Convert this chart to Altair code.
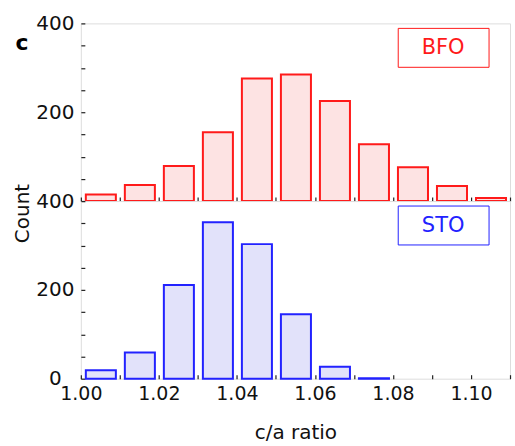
import altair as alt
import pandas as pd

bin_starts = [1.00, 1.01, 1.02, 1.03, 1.04, 1.05, 1.06, 1.07, 1.08, 1.09, 1.10]
bfo_counts = [15, 36, 79, 155, 276, 285, 225, 128, 76, 34, 7]
sto_counts = [19, 59, 211, 352, 303, 145, 27, 1, 0, 0, 0]
x_ticks = [1.00, 1.01, 1.02, 1.03, 1.04, 1.05, 1.06, 1.07, 1.08, 1.09, 1.10, 1.11]
x_labels = [1.00, 1.02, 1.04, 1.06, 1.08, 1.10]
y_ticks = [0, 50, 100, 150, 200, 250, 300, 350, 400]

W, H = 430, 178
FONT = "DejaVu Sans"
FS = 20

def make_df(counts):
    df = pd.DataFrame({"start": bin_starts, "count": counts})
    df["end"] = df["start"] + 0.01
    return df

one = pd.DataFrame({"k": [0]})

xscale = alt.Scale(domain=[1.0, 1.11], nice=False, zero=False)
yscale = alt.Scale(domain=[0, 400], nice=False)

def panel(counts, stroke, fill, name, y_labels, show_x, y_title):
    df = make_df(counts)
    xaxis = alt.Axis(values=x_labels, format=".2f", ticks=False, tickSize=0, domain=False,
                     grid=False, labels=show_x, labelFontSize=19, labelFont=FONT,
                     labelColor="#111", labelPadding=6, labelFlush=False, labelOverlap=False,
                     title="c/a ratio" if show_x else None,
                     titleFontSize=FS, titleFont=FONT, titleFontWeight="normal",
                     titleColor="#111", titlePadding=19)
    yaxis_kwargs = dict(values=y_labels, ticks=False, tickSize=0, domain=False, grid=False,
                        labelFontSize=FS, labelFont=FONT, labelColor="#111",
                        labelPadding=26, labelAlign="center", labelBaseline="middle",
                        labelFlush=False, labelOverlap=False)
    if y_title:
        yaxis_kwargs.update(title="Count", titleFontSize=FS, titleFont=FONT,
                            titleFontWeight="normal", titleColor="#111",
                            titleX=-48, titleY=12, titleAngle=-90, titleAlign="center")
    else:
        yaxis_kwargs.update(title=None)
    bars = alt.Chart(df).transform_filter("datum.count > 0").mark_bar(
        stroke=stroke, strokeWidth=2, fill=fill, xOffset=5, x2Offset=-4).encode(
        x=alt.X("start:Q", scale=xscale, axis=xaxis),
        x2="end:Q",
        y=alt.Y("count:Q", scale=yscale, axis=alt.Axis(**yaxis_kwargs)),
        y2=alt.datum(0),
    )
    ticks = alt.Chart(df).mark_point(opacity=0).encode(
        x=alt.X("start:Q", scale=xscale,
                axis=alt.Axis(orient="top", offset=-H, values=x_ticks, labels=False,
                              domain=False, grid=False, tickSize=4, tickColor="#222",
                              tickWidth=1.2, title=None)),
        y=alt.Y("count:Q", scale=yscale,
                axis=alt.Axis(orient="right", offset=-W, values=y_ticks, labels=False,
                              domain=False, grid=False, tickSize=4, tickColor="#222",
                              tickWidth=1.2, title=None)),
    )
    box = alt.Chart(one).mark_rect(fill=None, stroke=stroke, strokeWidth=1).encode(
        x=alt.value(318), x2=alt.value(409), y=alt.value(5), y2=alt.value(44))
    label = alt.Chart(one).mark_text(color=stroke, fontSize=21, font=FONT,
                                     align="center", baseline="middle").encode(
        x=alt.value(363), y=alt.value(25), text=alt.value(name))
    layers = [bars, ticks, box, label]
    if name == "BFO":
        c = alt.Chart(one).mark_text(color="#000", fontSize=22, font=FONT, fontWeight="bold",
                                     align="center", baseline="middle").encode(
            x=alt.value(-59), y=alt.value(20), text=alt.value("c"))
        layers.append(c)
    return alt.layer(*layers).resolve_axis(x="independent", y="independent").properties(
        width=W, height=H)

top = panel(bfo_counts, "#ff1a1a", "#fde3e3", "BFO", [200, 400], False, False)
bottom = panel(sto_counts, "#2222ff", "#e2e2fa", "STO", [0, 200, 400], True, True)

chart = alt.vconcat(top, bottom, spacing=0, bounds="flush").configure_view(
    stroke="#333", strokeWidth=1.5
).configure(padding={"left": 12, "top": 12, "right": 3, "bottom": 3})

chart.save("out.html", embed_options={"renderer": "svg", "actions": False})
